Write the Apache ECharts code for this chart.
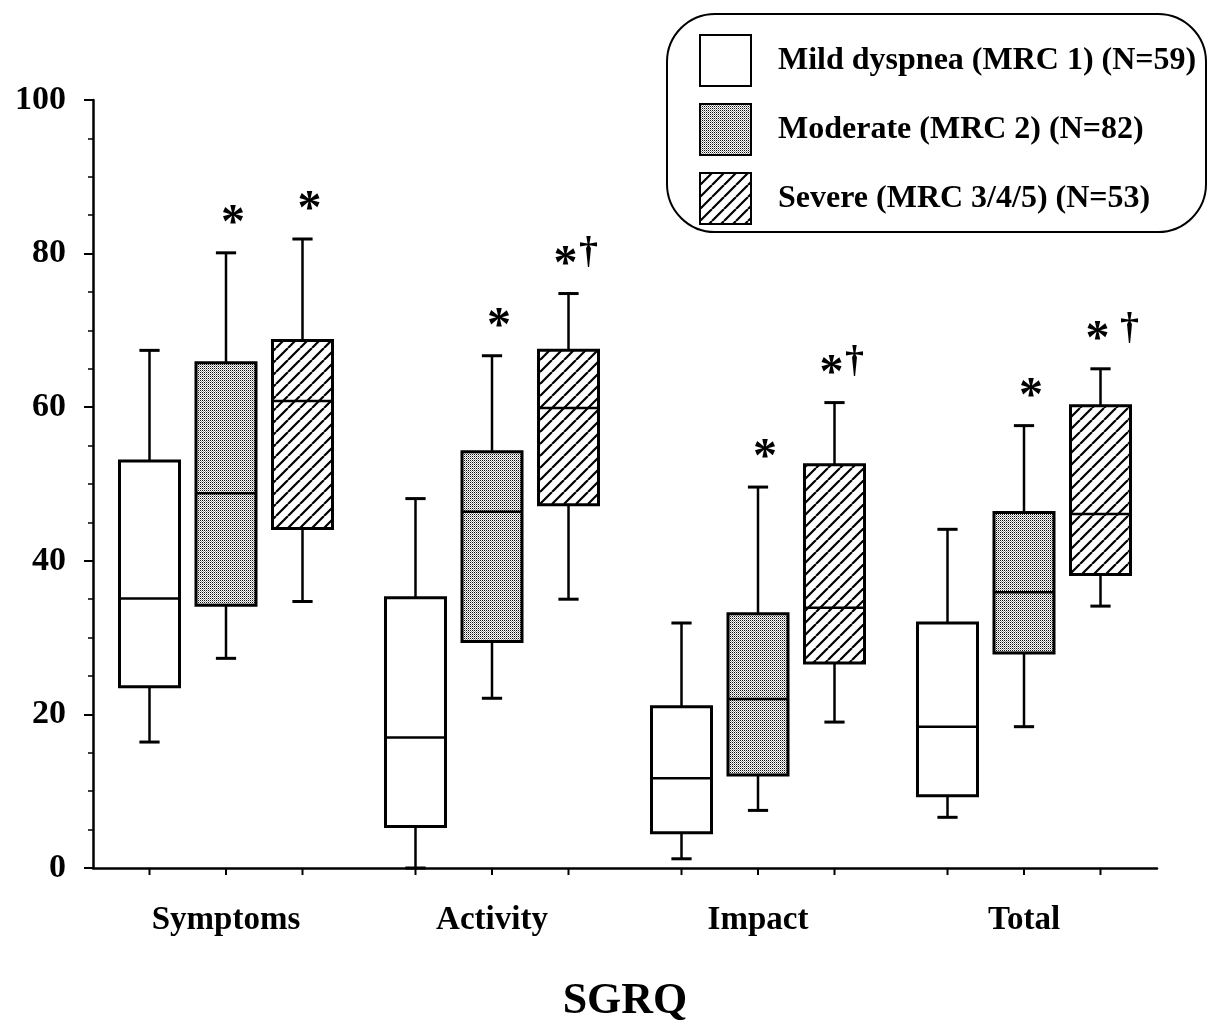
<!DOCTYPE html>
<html><head><meta charset="utf-8">
<script src="https://cdn.jsdelivr.net/npm/echarts@6/dist/echarts.min.js"></script>
<style>html,body{margin:0;padding:0;background:#fff}#c{width:1208px;height:1020px}</style>
</head><body><div id="c"></div>
<script>
// ---- data ----
const categories = ['Symptoms', 'Activity', 'Impact', 'Total'];
const groupNames = ['Mild dyspnea (MRC 1) (N=59)', 'Moderate (MRC 2) (N=82)', 'Severe (MRC 3/4/5) (N=53)'];
// each entry: [min, Q1, median, Q3, max]
const mildValues     = [[16.4, 23.6, 35.1, 53.0, 67.4], [0.0, 5.4, 17.0, 35.2, 48.1], [1.2, 4.6, 11.7, 21.0, 31.9], [6.6, 9.4, 18.4, 31.9, 44.1]];
const moderateValues = [[27.3, 34.2, 48.8, 65.8, 80.1], [22.1, 29.5, 46.4, 54.2, 66.7], [7.5, 12.1, 22.0, 33.1, 49.6], [18.4, 28.0, 35.9, 46.3, 57.6]];
const severeValues   = [[34.7, 44.2, 60.8, 68.7, 81.9], [35.0, 47.3, 59.9, 67.4, 74.8], [19.0, 26.7, 33.9, 52.5, 60.6], [34.1, 38.2, 46.1, 60.2, 65.0]];
const mildMarks     = ['', '', '', ''];
const moderateMarks = ['*', '*', '*', '*'];
const severeMarks   = ['*', '*†', '*†', '* †'];
const yTicks = [0, 20, 40, 60, 80, 100];

// ---- fills ----
function stipple() {
  const c = document.createElement('canvas'); c.width = c.height = 2;
  const g = c.getContext('2d');
  g.fillStyle = '#fff'; g.fillRect(0, 0, 2, 2);
  g.fillStyle = '#111'; g.fillRect(0, 0, 1, 1);
  g.fillStyle = '#9a9a9a'; g.fillRect(1, 1, 1, 1);
  return { image: c, repeat: 'repeat' };
}
function hatch() {
  const s = 12;
  const c = document.createElement('canvas'); c.width = c.height = s;
  const g = c.getContext('2d');
  g.fillStyle = '#fff'; g.fillRect(0, 0, s, s);
  g.strokeStyle = '#000'; g.lineWidth = 2.2;
  g.beginPath();
  for (const k of [-1, 0, 1]) { g.moveTo(k * s, s); g.lineTo(k * s + s, 0); }
  g.stroke();
  return { image: c, repeat: 'repeat' };
}
const fills = ['#ffffff', stipple(), hatch()];
const FONT = '"Liberation Serif", "Times New Roman", serif';

const OFFSET = 0.2876, BOXW = 0.2256, CAPW = 0.076;

function makeSeries(idx, values, marks) {
  return {
    type: 'custom',
    name: groupNames[idx],
    itemStyle: { color: fills[idx], borderColor: '#000', borderWidth: 2.5 },
    data: values.map((v, i) => [i].concat(v)),
    encode: { x: 0, y: [1, 2, 3, 4, 5] },
    z: 3,
    renderItem: function (params, api) {
      const cat = api.value(0);
      const vmin = api.value(1), q1 = api.value(2), med = api.value(3), q3 = api.value(4), vmax = api.value(5);
      const band = api.size([1, 0])[0];
      const cx = api.coord([cat, 0])[0] + (idx - 1) * band * OFFSET;
      const hw = band * BOXW / 2, cw = band * CAPW / 2;
      const Y = v => api.coord([cat, v])[1];
      const yMin = Y(vmin), yQ1 = Y(q1), yMed = Y(med), yQ3 = Y(q3), yMax = Y(vmax), y0 = Y(0);
      const ls = { stroke: '#000', lineWidth: 2.5 };
      const children = [
        { type: 'line', shape: { x1: cx, y1: yQ1, x2: cx, y2: yMin }, style: ls },
        { type: 'line', shape: { x1: cx, y1: yQ3, x2: cx, y2: yMax }, style: ls },
        { type: 'line', shape: { x1: cx - cw, y1: yMin, x2: cx + cw, y2: yMin }, style: { stroke: '#000', lineWidth: 3 } },
        { type: 'line', shape: { x1: cx - cw, y1: yMax, x2: cx + cw, y2: yMax }, style: { stroke: '#000', lineWidth: 3 } },
        { type: 'rect', shape: { x: cx - hw, y: yQ3, width: 2 * hw, height: yQ1 - yQ3 },
          style: { fill: fills[idx], stroke: '#000', lineWidth: 3 } },
        { type: 'line', shape: { x1: cx - hw, y1: yMed, x2: cx + hw, y2: yMed }, style: ls },
        { type: 'line', shape: { x1: cx, y1: y0, x2: cx, y2: y0 + 7 }, style: { stroke: '#000', lineWidth: 2 } }
      ];
      const mark = marks[params.dataIndex];
      if (mark) {
        const hasDagger = mark.indexOf('†') >= 0;
        const spaced = mark.indexOf(' ') >= 0;
        const ay = yMax - 28;
        children.push({ type: 'text', x: cx + (hasDagger ? -3 : 7), y: ay,
          style: { text: '*', font: 'bold 48px ' + FONT, fill: '#000', align: 'center', verticalAlign: 'middle' } });
        if (hasDagger) {
          children.push({ type: 'text', x: cx + (spaced ? 29 : 20), y: ay - 12,
            style: { text: '†', font: 'bold 38px ' + FONT, fill: '#000', align: 'center', verticalAlign: 'middle' } });
        }
      }
      return { type: 'group', children: children };
    }
  };
}

const chart = echarts.init(document.getElementById('c'), null, { renderer: 'canvas' });
chart.setOption({
  backgroundColor: '#fff',
  animation: false,
  grid: { left: 93, right: 51, top: 100, bottom: 152, outerBoundsMode: 'none' },
  legend: {
    orient: 'vertical', left: 699, top: 34, padding: 0,
    itemWidth: 51, itemHeight: 51, itemGap: 16, icon: 'rect',
    itemStyle: { borderColor: '#000', borderWidth: 2 },
    textStyle: { fontFamily: FONT, fontWeight: 'bold', fontSize: 32, color: '#000', padding: [6, 0, 0, 22] },
    data: groupNames,
    selectedMode: false
  },
  graphic: [{
    type: 'rect', z: -1,
    shape: { x: 667, y: 14, width: 539, height: 218, r: 48 },
    style: { fill: 'transparent', stroke: '#000', lineWidth: 2 }
  }],
  xAxis: {
    type: 'category', data: categories,
    axisLine: { show: true, lineStyle: { color: '#000', width: 2.5 } },
    axisTick: { show: false },
    axisLabel: { fontFamily: FONT, fontWeight: 'bold', fontSize: 33, color: '#000', margin: 36 },
    splitLine: { show: false },
    name: 'SGRQ', nameLocation: 'middle', nameGap: 112,
    nameTextStyle: { fontFamily: FONT, fontWeight: 'bold', fontSize: 44, color: '#000' }
  },
  yAxis: {
    type: 'value', min: yTicks[0], max: yTicks[yTicks.length - 1], interval: yTicks[1] - yTicks[0],
    axisLine: { show: true, lineStyle: { color: '#000', width: 2.5 } },
    axisTick: { show: true, length: 9, lineStyle: { color: '#000', width: 2 } },
    minorTick: { show: true, splitNumber: 4, length: 5, lineStyle: { color: '#000', width: 1.5 } },
    axisLabel: { fontFamily: FONT, fontWeight: 'bold', fontSize: 34, color: '#000', margin: 27 },
    splitLine: { show: false }
  },
  series: [
    makeSeries(0, mildValues, mildMarks),
    makeSeries(1, moderateValues, moderateMarks),
    makeSeries(2, severeValues, severeMarks)
  ]
});
</script></body></html>
